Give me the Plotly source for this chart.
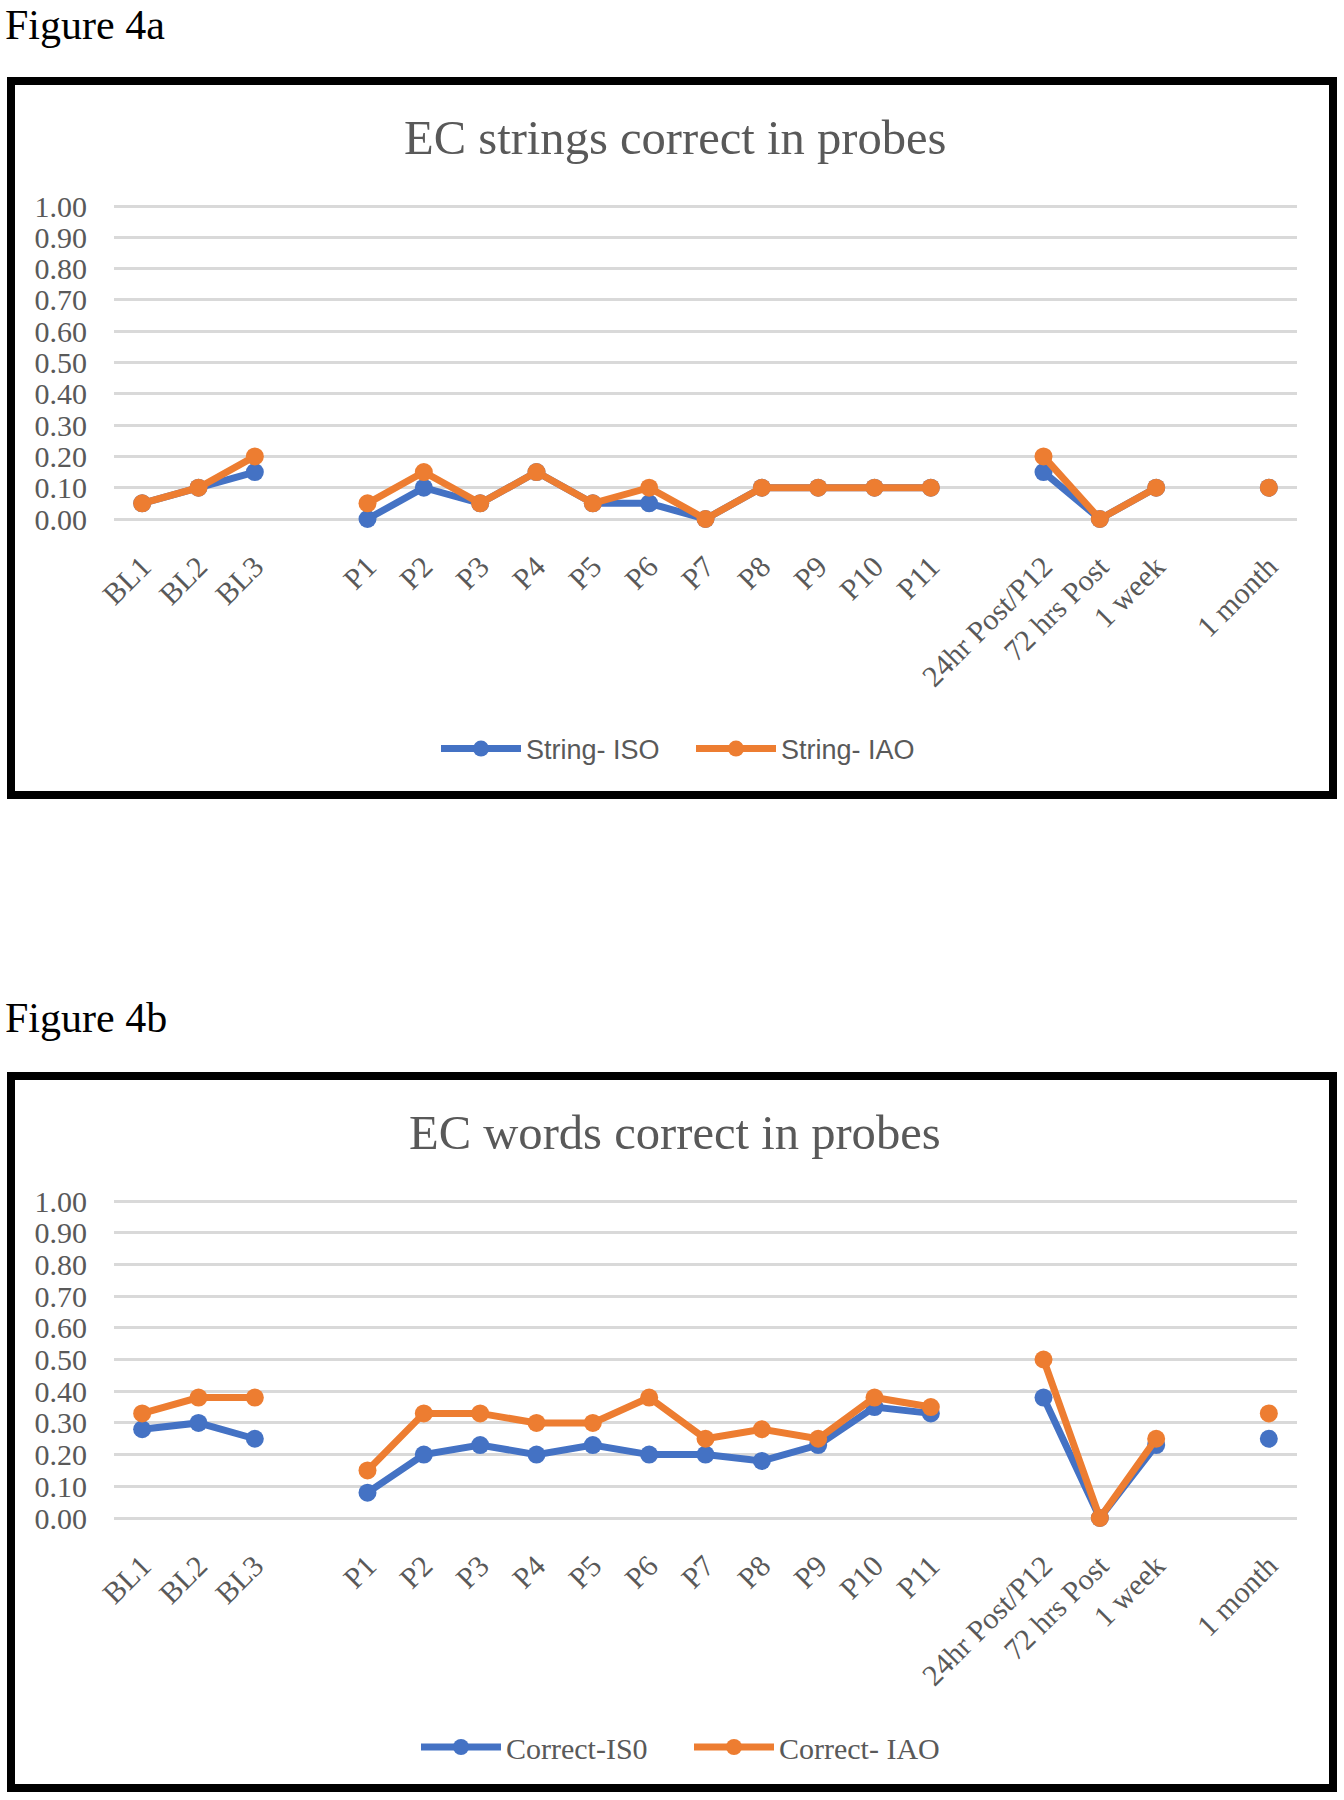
import plotly.graph_objects as go

# ---------------- data ----------------
categories = ["BL1", "BL2", "BL3", " ",
              "P1", "P2", "P3", "P4", "P5", "P6", "P7", "P8", "P9", "P10", "P11", "  ",
              "24hr Post/P12", "72 hrs Post", "1 week", "   ", "1 month"]

string_iso = [0.05, 0.10, 0.15, None, 0.00, 0.10, 0.05, 0.15, 0.05, 0.05, 0.00,
              0.10, 0.10, 0.10, 0.10, None, 0.15, 0.00, 0.10, None, 0.10]
string_iao = [0.05, 0.10, 0.20, None, 0.05, 0.15, 0.05, 0.15, 0.05, 0.10, 0.00,
              0.10, 0.10, 0.10, 0.10, None, 0.20, 0.00, 0.10, None, 0.10]

correct_iso = [0.28, 0.30, 0.25, None, 0.08, 0.20, 0.23, 0.20, 0.23, 0.20, 0.20,
               0.18, 0.23, 0.35, 0.33, None, 0.38, 0.00, 0.23, None, 0.25]
correct_iao = [0.33, 0.38, 0.38, None, 0.15, 0.33, 0.33, 0.30, 0.30, 0.38, 0.25,
               0.28, 0.25, 0.38, 0.35, None, 0.50, 0.00, 0.25, None, 0.33]

names_a = ["String- ISO", "String- IAO"]
names_b = ["Correct-IS0", "Correct- IAO"]
titles = ["EC strings correct in probes", "EC words correct in probes"]
fig_labels = ["Figure 4a", "Figure 4b"]

# ---------------- style ----------------
W, H = 1344, 1800
BLUE = "#4472C4"
ORANGE = "#ED7D31"
GREY = "#595959"
GRID = "#D9D9D9"
SERIF = "Liberation Serif, Times New Roman, serif"
SANS = "Liberation Sans, Arial, sans-serif"


def px(x):
    return x / W


def py(y):
    return 1 - y / H


fig = go.Figure()

series = [
    (string_iso, names_a[0], BLUE, "x", "y", "legend"),
    (string_iao, names_a[1], ORANGE, "x", "y", "legend"),
    (correct_iso, names_b[0], BLUE, "x2", "y2", "legend2"),
    (correct_iao, names_b[1], ORANGE, "x2", "y2", "legend2"),
]
for vals, name, color, xa, ya, lg in series:
    fig.add_trace(go.Scatter(
        x=categories, y=vals, name=name, mode="lines+markers",
        line=dict(color=color, width=7),
        marker=dict(color=color, size=18),
        connectgaps=False, cliponaxis=False,
        xaxis=xa, yaxis=ya, legend=lg, hoverinfo="skip",
    ))

EPS = 0.01  # small range padding so that the 0 and 1 grid lines are drawn
xdom = [px(114), px(1297)]
common_x = dict(
    type="category", categoryorder="array", categoryarray=categories,
    range=[-0.5, len(categories) - 0.5], automargin=False,
    tickangle=-45, showgrid=False, showline=False, zeroline=False, ticks="",
    tickfont=dict(family=SERIF, size=30, color=GREY), ticklabelstandoff=20,
    domain=xdom,
)
common_y = dict(
    range=[-EPS, 1 + EPS], dtick=0.1, tick0=0, tickformat=".2f", automargin=False,
    showgrid=True, gridcolor=GRID, gridwidth=2.5, zeroline=False, showline=False,
    ticks="", tickfont=dict(family=SERIF, size=30, color=GREY), ticklabelstandoff=26,
)


def ydom(top_px, bottom_px):
    unit = bottom_px - top_px
    return [py(bottom_px + EPS * unit), py(top_px - EPS * unit)]


fig.update_layout(
    width=W, height=H,
    margin=dict(l=0, r=0, t=0, b=0, autoexpand=False),
    paper_bgcolor="white", plot_bgcolor="white",
    xaxis=dict(anchor="y", **common_x),
    yaxis=dict(anchor="x", domain=ydom(206, 519), **common_y),
    xaxis2=dict(anchor="y2", **common_x),
    yaxis2=dict(anchor="x2", domain=ydom(1201, 1518), **common_y),
    legend=dict(orientation="h", x=px(436), xanchor="left", y=py(749), yanchor="middle",
                font=dict(family=SANS, size=27, color=GREY), bgcolor="rgba(0,0,0,0)",
                itemwidth=80, entrywidth=160, entrywidthmode="pixels"),
    legend2=dict(orientation="h", x=px(416), xanchor="left", y=py(1747), yanchor="middle",
                 font=dict(family=SERIF, size=30, color=GREY), bgcolor="rgba(0,0,0,0)",
                 itemwidth=80, entrywidth=178, entrywidthmode="pixels"),
    showlegend=True,
)

# frames around each chart
for (y0, y1) in [(81, 795), (1076, 1788)]:
    fig.add_shape(type="rect", xref="paper", yref="paper",
                  x0=px(11), x1=px(1333), y0=py(y1), y1=py(y0),
                  line=dict(color="black", width=8), fillcolor="rgba(0,0,0,0)")

# figure labels
for lab, ytop in [(fig_labels[0], 0), (fig_labels[1], 993)]:
    fig.add_annotation(text=lab, xref="paper", yref="paper", x=px(3), y=py(ytop),
                       xanchor="left", yanchor="top", showarrow=False,
                       font=dict(family=SERIF, size=42, color="black"))

# chart titles
for t, yc in [(titles[0], 138), (titles[1], 1133)]:
    fig.add_annotation(text=t, xref="paper", yref="paper", x=px(675), y=py(yc),
                       xanchor="center", yanchor="middle", showarrow=False,
                       font=dict(family=SERIF, size=48.6, color=GREY))

fig.write_html(
    "out.html",
    config={"displayModeBar": False},
    post_script="document.body.style.margin='0';document.body.style.overflow='hidden';"
                "document.documentElement.style.overflow='hidden';",
)
